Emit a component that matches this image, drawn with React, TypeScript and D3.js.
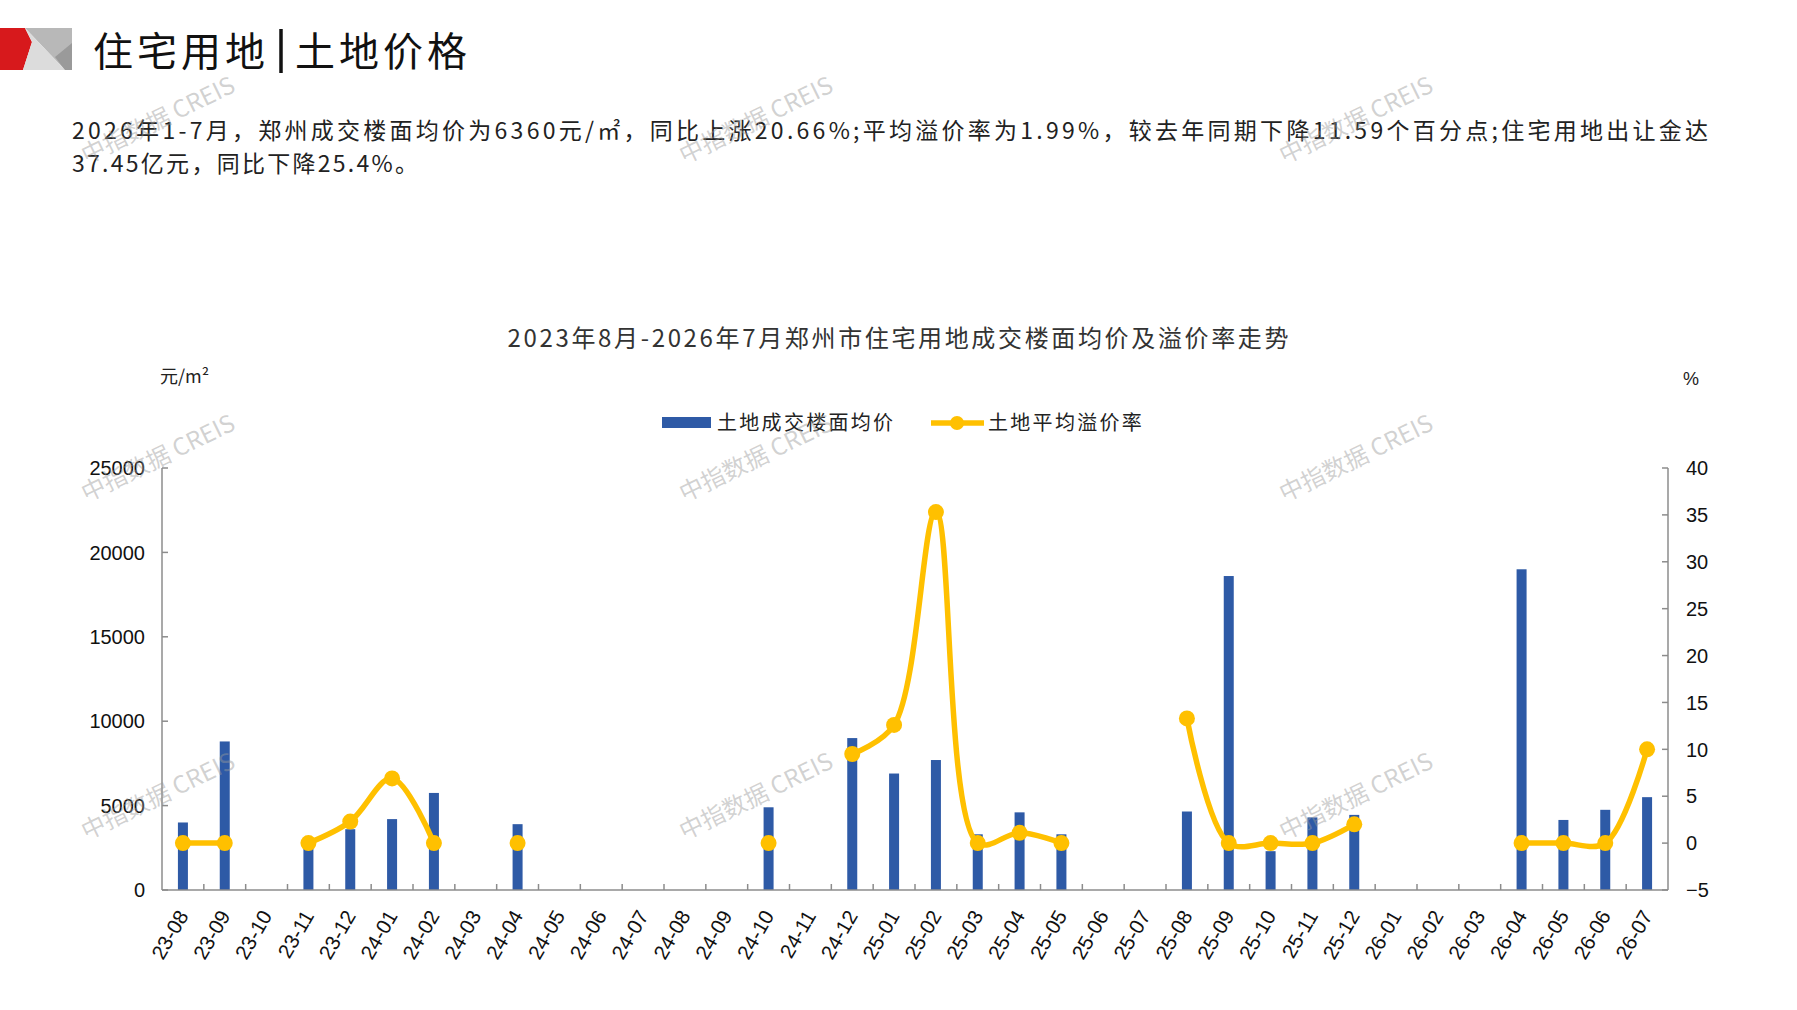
import React, { useEffect, useRef } from "react";
import * as d3 from "d3";

const months = [
  "23-08", "23-09", "23-10", "23-11", "23-12", "24-01", "24-02", "24-03", "24-04",
  "24-05", "24-06", "24-07", "24-08", "24-09", "24-10", "24-11", "24-12", "25-01",
  "25-02", "25-03", "25-04", "25-05", "25-06", "25-07", "25-08", "25-09", "25-10",
  "25-11", "25-12", "26-01", "26-02", "26-03", "26-04", "26-05", "26-06", "26-07",
];

// 土地成交楼面均价 (元/㎡), null = 当月无成交
const price: (number | null)[] = [
  4000, 8800, null, 2700, 3600, 4200, 5750, null, 3900,
  null, null, null, null, null, 4900, null, 9000, 6900,
  7700, 3300, 4600, 3300, null, null, 4650, 18600, 2300,
  4300, 4450, null, null, null, 19000, 4150, 4750, 5500,
];

// 土地平均溢价率 (%)
const rate: (number | null)[] = [
  0, 0, null, 0, 2.3, 6.9, 0, null, 0,
  null, null, null, null, null, 0, null, 9.5, 12.6,
  35.3, 0, 1.1, 0, null, null, 13.3, 0, 0,
  0, 2.0, null, null, null, 0, 0, 0, 10,
];

const leftTicks = [0, 5000, 10000, 15000, 20000, 25000];
const rightTicks = [-5, 0, 5, 10, 15, 20, 25, 30, 35, 40];

const headline = "住宅用地";
const headline2 = "土地价格";
const para1 = "2026年1-7月，郑州成交楼面均价为6360元/㎡，同比上涨20.66%;平均溢价率为1.99%，较去年同期下降11.59个百分点;住宅用地出让金达";
const para2 = "37.45亿元，同比下降25.4%。";
const chartTitle = "2023年8月-2026年7月郑州市住宅用地成交楼面均价及溢价率走势";
const seriesNames = ["土地成交楼面均价", "土地平均溢价率"];
const watermark = "中指数据 CREIS";

const BLUE = "#2E5AA6";
const GOLD = "#FFC000";
const AXIS = "#8C8C8C";
const CJK = "'Noto Sans CJK SC', 'Noto Sans', sans-serif";
const NUM = "'Liberation Sans', Arial, sans-serif";

const App: React.FC = () => {
  const svgRef = useRef<SVGSVGElement | null>(null);

  useEffect(() => {
    document.body.style.margin = "0";
    if (!svgRef.current) return;
    const width = 1797;
    const height = 1010;
    const plot = { left: 162, right: 1668, top: 468, bottom: 890 };

    d3.select(svgRef.current).selectAll("*").remove();
    const svg = d3.select(svgRef.current).attr("width", width).attr("height", height);

    svg.append("rect").attr("width", width).attr("height", height).attr("fill", "#fff");

    // header logo
    const logo = svg.append("g");
    logo.append("polygon").attr("points", "0,28 25,28 32,42 23,70 0,70").attr("fill", "#D7191C");
    logo.append("polygon").attr("points", "25,28 72,28 72,70 65,70").attr("fill", "#B8B8B8");
    logo.append("polygon").attr("points", "25,28 65,70 23,70 32,42").attr("fill", "#DCDCDC");
    logo.append("polygon").attr("points", "55,57 72,43 72,70 65,70").attr("fill", "#9A9A9A");

    svg.append("text").attr("x", 93).attr("y", 66)
      .attr("font-family", CJK).attr("font-size", 40).attr("letter-spacing", 4)
      .attr("fill", "#111").text(headline);
    svg.append("line").attr("x1", 281).attr("x2", 281).attr("y1", 29).attr("y2", 73)
      .attr("stroke", "#111").attr("stroke-width", 3.5);
    svg.append("text").attr("x", 295).attr("y", 66)
      .attr("font-family", CJK).attr("font-size", 40).attr("letter-spacing", 4)
      .attr("fill", "#111").text(headline2);

    svg.append("text").attr("x", 72).attr("y", 139)
      .attr("font-family", CJK).attr("font-size", 23).attr("fill", "#222")
      .attr("textLength", 1636).attr("lengthAdjust", "spacing").text(para1);
    svg.append("text").attr("x", 72).attr("y", 172)
      .attr("font-family", CJK).attr("font-size", 23).attr("fill", "#222")
      .attr("textLength", 346).attr("lengthAdjust", "spacing").text(para2);

    // chart title
    svg.append("text").attr("x", 898).attr("y", 347).attr("text-anchor", "middle")
      .attr("font-family", CJK).attr("font-size", 24).attr("fill", "#333")
      .attr("textLength", 781).attr("lengthAdjust", "spacing").text(chartTitle);

    svg.append("text").attr("x", 160).attr("y", 383)
      .attr("font-family", CJK).attr("font-size", 18).attr("fill", "#222").text("元/m²");
    svg.append("text").attr("x", 1683).attr("y", 385)
      .attr("font-family", NUM).attr("font-size", 18).attr("fill", "#222").text("%");

    // legend
    const legend = svg.append("g").attr("font-family", CJK).attr("font-size", 20).attr("fill", "#222");
    legend.append("rect").attr("x", 662).attr("y", 417).attr("width", 49).attr("height", 11).attr("fill", BLUE);
    legend.append("text").attr("x", 717).attr("y", 430).attr("letter-spacing", 2.3).text(seriesNames[0]);
    legend.append("line").attr("x1", 931).attr("x2", 984).attr("y1", 423).attr("y2", 423)
      .attr("stroke", GOLD).attr("stroke-width", 5.5);
    legend.append("circle").attr("cx", 957).attr("cy", 423).attr("r", 7).attr("fill", GOLD);
    legend.append("text").attr("x", 988).attr("y", 430).attr("letter-spacing", 2.3).text(seriesNames[1]);

    const x = d3.scaleBand<string>().domain(months).range([plot.left, plot.right]).padding(0);
    const yL = d3.scaleLinear().domain([0, 25000]).range([plot.bottom, plot.top]);
    const yR = d3.scaleLinear().domain([-5, 40]).range([plot.bottom, plot.top]);
    const cx = (m: string) => (x(m) ?? 0) + x.bandwidth() / 2;

    // bars
    svg.append("g").selectAll("rect")
      .data(months.map((m, i) => ({ m, v: price[i] })).filter((d) => d.v !== null))
      .enter().append("rect")
      .attr("x", (d) => cx(d.m) - 5)
      .attr("width", 10)
      .attr("y", (d) => yL(d.v as number))
      .attr("height", (d) => plot.bottom - yL(d.v as number))
      .attr("fill", BLUE);

    // axes
    const axes = svg.append("g").attr("stroke", AXIS).attr("stroke-width", 1.5).attr("fill", "none");
    axes.append("line").attr("x1", plot.left).attr("x2", plot.left).attr("y1", plot.top).attr("y2", plot.bottom);
    axes.append("line").attr("x1", plot.right).attr("x2", plot.right).attr("y1", plot.top).attr("y2", plot.bottom);
    axes.append("line").attr("x1", plot.left).attr("x2", plot.right).attr("y1", plot.bottom).attr("y2", plot.bottom);
    leftTicks.forEach((t) => {
      axes.append("line").attr("x1", plot.left).attr("x2", plot.left + 6).attr("y1", yL(t)).attr("y2", yL(t));
    });
    rightTicks.forEach((t) => {
      axes.append("line").attr("x1", plot.right - 6).attr("x2", plot.right).attr("y1", yR(t)).attr("y2", yR(t));
    });
    months.slice(1).forEach((m) => {
      const bx = x(m) ?? 0;
      axes.append("line").attr("x1", bx).attr("x2", bx).attr("y1", plot.bottom - 6).attr("y2", plot.bottom);
    });

    const labels = svg.append("g").attr("font-family", NUM).attr("font-size", 20).attr("fill", "#111");
    leftTicks.forEach((t) => {
      labels.append("text").attr("x", 145).attr("y", yL(t)).attr("dy", "0.36em")
        .attr("text-anchor", "end").text(String(t));
    });
    rightTicks.forEach((t) => {
      labels.append("text").attr("x", 1686).attr("y", yR(t)).attr("dy", "0.36em")
        .attr("text-anchor", "start").text(t < 0 ? "−" + Math.abs(t) : String(t));
    });
    months.forEach((m) => {
      labels.append("text")
        .attr("transform", `translate(${cx(m)},${912}) rotate(-60)`)
        .attr("text-anchor", "end").attr("dy", "0.35em").attr("font-size", 20.5).text(m);
    });

    // rate line
    const pts = months.map((m, i) => ({ m, v: rate[i] }));
    const line = d3.line<{ m: string; v: number | null }>()
      .defined((d) => d.v !== null)
      .x((d) => cx(d.m))
      .y((d) => yR(d.v as number))
      .curve(d3.curveCatmullRom.alpha(0.5));
    svg.append("path").attr("d", line(pts) ?? "")
      .attr("fill", "none").attr("stroke", GOLD).attr("stroke-width", 5.5)
      .attr("stroke-linejoin", "round").attr("stroke-linecap", "round");
    svg.append("g").selectAll("circle")
      .data(pts.filter((d) => d.v !== null))
      .enter().append("circle")
      .attr("cx", (d) => cx(d.m)).attr("cy", (d) => yR(d.v as number))
      .attr("r", 8).attr("fill", GOLD);

    // watermarks
    const wm = svg.append("g").attr("font-family", CJK).attr("font-size", 24)
      .attr("fill", "#9a9a9a").attr("fill-opacity", 0.45);
    [158, 756, 1356].forEach((wx) => {
      [120, 458, 796].forEach((wy) => {
        wm.append("text").attr("transform", `translate(${wx},${wy}) rotate(-26)`)
          .attr("text-anchor", "middle").attr("dy", "0.35em").text(watermark);
      });
    });
  }, []);

  return <svg ref={svgRef} style={{ display: "block" }}></svg>;
};

export default App;
